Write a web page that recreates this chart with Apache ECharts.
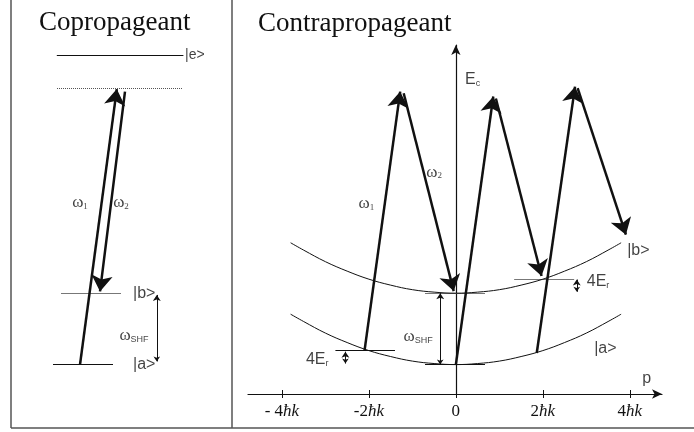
<!DOCTYPE html>
<html>
<head>
<meta charset="utf-8">
<script src="https://cdn.jsdelivr.net/npm/echarts@6/dist/echarts.min.js"></script>
<style>
  html, body { margin: 0; padding: 0; background: #fff; }
  #main { width: 694px; height: 432px; }
</style>
</head>
<body>
<div id="main"></div>
<script>
// values. right panel: p in units of hbar*k, energy in units of E_r
// left panel: arbitrary horizontal units, same energy scale
const ticksP = [-4, -2, 0, 2, 4];
const tickLabels = ['- 4', '-2', '0', '2', '4'];

const curveP = [-3.8, -3.5, -3, -2.5, -2, -1.5, -1, -0.5, 0, 0.5, 1, 1.5, 2, 2.5, 3, 3.5, 3.8];
const curveA = [14.4, 12.3, 9, 6.3, 4, 2.3, 1, 0.3, 0, 0.3, 1, 2.3, 4, 6.3, 9, 12.3, 14.4];
const curveB = [34.8, 32.7, 29.4, 26.7, 24.4, 22.7, 21.4, 20.7, 20.4, 20.7, 21.4, 22.7, 24.4, 26.7, 29.4, 32.7, 34.8];

// [p start, E start, p end, E end]
const beamsRight = [
  [-2.1, 4, -1.28, 78],
  [-1.2, 77.5, -0.05, 21],
  [0, 0, 0.86, 76.6],
  [0.92, 76, 1.97, 25.3],
  [1.86, 3.3, 2.74, 79.4],
  [2.8, 79, 3.91, 37.1]
];
// [p from, p to, E]
const marksA = [[-2.77, -1.4, 4], [-0.71, 0.67, 0]];
const marksB = [[-0.71, 0.67, 20.4], [1.34, 2.72, 24.4]];
// [p, E low, E high]
const gapsRight = [[-0.36, 0, 20.4], [-2.54, 0.3, 3.7], [2.78, 20.8, 24.3]];

const beamsLeft = [[3.0, 0, 4.84, 78.7], [5.25, 78, 4.0, 20.9]];
const levelE = [1.84, 8.17, 88.5];
const levelVirtual = [1.85, 8.15, 79];
const levelB = [2.05, 5.05, 20.4];
const levelA = [1.65, 4.65, 0];
const gapsLeft = [[6.84, 0.9, 19.9]];

const serif = '"Liberation Serif", "Times New Roman", serif';
const sans = '"Liberation Sans", Arial, sans-serif';
const ink = '#111';

const rich = {
  w: { fontFamily: serif, fontSize: 17, color: ink, verticalAlign: 'bottom', lineHeight: 17 },
  ws: { fontFamily: serif, fontSize: 9, color: ink, verticalAlign: 'bottom', lineHeight: 12 },
  s: { fontFamily: sans, fontSize: 16, color: ink, verticalAlign: 'bottom', lineHeight: 16 },
  ss: { fontFamily: sans, fontSize: 9, color: ink, verticalAlign: 'bottom', lineHeight: 12 },
  k: { fontFamily: sans, fontSize: 14, color: ink },
  n: { fontFamily: serif, fontSize: 17, color: ink },
  i: { fontFamily: serif, fontSize: 17, color: ink, fontStyle: 'italic' }
};

function txt(x, y, text, align) {
  return {
    value: [x, y],
    label: { show: true, position: 'inside', formatter: text, align: align || 'center', verticalAlign: 'middle', rich: rich }
  };
}
function seg(a) { return { coords: [[a[0], a[1]], [a[2], a[3]]] }; }
function hseg(a) { return { coords: [[a[0], a[2]], [a[1], a[2]]] }; }
function vseg(a) { return { coords: [[a[0], a[1]], [a[0], a[2]]] }; }

const beamStyle = { color: ink, width: 2.5, opacity: 1 };
const thin = { color: ink, width: 1, opacity: 1 };

const yRange = { min: -8.4, max: 91.3 };

const option = {
  animation: false,
  backgroundColor: '#fff',
  grid: [
    { left: 20, width: 200, top: 45, bottom: 38 },
    { left: 248, right: 32, top: 45, bottom: 38 }
  ],
  xAxis: [
    { gridIndex: 0, type: 'value', min: 0, max: 10, show: false },
    {
      gridIndex: 1, type: 'value', min: -4.78, max: 4.74, position: 'bottom',
      axisLine: { show: true, onZero: false, symbol: ['none', 'arrow'], symbolSize: [7, 10], lineStyle: { color: ink, width: 1.2 } },
      axisTick: { show: true, customValues: ticksP, length: 4, lineStyle: { color: ink, width: 1 } },
      axisLabel: {
        show: true, customValues: ticksP, margin: 9,
        formatter: function (v) {
          const i = ticksP.indexOf(v);
          return v === 0 ? '{n|' + tickLabels[i] + '}' : '{n|' + tickLabels[i] + '}{i|ħk}';
        },
        rich: rich
      },
      splitLine: { show: false }
    },
    {
      gridIndex: 1, type: 'value', min: -4.78, max: 4.74, position: 'bottom',
      axisLine: { show: false, onZero: false },
      axisTick: { show: true, inside: true, customValues: ticksP, length: 4, lineStyle: { color: ink, width: 1 } },
      axisLabel: { show: false },
      splitLine: { show: false }
    }
  ],
  yAxis: [
    { gridIndex: 0, type: 'value', min: yRange.min, max: yRange.max, show: false },
    {
      gridIndex: 1, type: 'value', min: yRange.min, max: yRange.max,
      axisLine: { show: true, onZero: true, symbol: ['none', 'arrow'], symbolSize: [7, 10], lineStyle: { color: ink, width: 1.2 } },
      axisTick: { show: false }, axisLabel: { show: false }, splitLine: { show: false }
    }
  ],
  series: [
    // ---------- left panel ----------
    {
      type: 'lines', coordinateSystem: 'cartesian2d', xAxisIndex: 0, yAxisIndex: 0,
      lineStyle: thin, data: [hseg(levelE), hseg(levelA)]
    },
    {
      type: 'lines', coordinateSystem: 'cartesian2d', xAxisIndex: 0, yAxisIndex: 0,
      lineStyle: { color: '#777', width: 1.2, opacity: 1 }, data: [hseg(levelB)]
    },
    {
      type: 'lines', coordinateSystem: 'cartesian2d', xAxisIndex: 0, yAxisIndex: 0,
      lineStyle: { color: '#555', width: 1, type: 'dotted', opacity: 1 }, data: [hseg(levelVirtual)]
    },
    {
      type: 'lines', coordinateSystem: 'cartesian2d', xAxisIndex: 0, yAxisIndex: 0,
      symbol: ['none', 'arrow'], symbolSize: [11, 16],
      lineStyle: beamStyle, data: beamsLeft.map(seg)
    },
    {
      type: 'lines', coordinateSystem: 'cartesian2d', xAxisIndex: 0, yAxisIndex: 0,
      symbol: ['arrow', 'arrow'], symbolSize: [5, 6],
      lineStyle: thin, data: gapsLeft.map(vseg)
    },
    {
      type: 'scatter', xAxisIndex: 0, yAxisIndex: 0, symbolSize: 0, silent: true,
      data: [
        txt(8.25, 88.5, '{k||e>}', 'left'),
        txt(5.65, 20.4, '{s||b>}', 'left'),
        txt(5.65, 0, '{s||a>}', 'left'),
        txt(3.0, 46.2, '{w|ω}{ws|1}'),
        txt(5.05, 46.2, '{w|ω}{ws|2}'),
        txt(5.7, 8.2, '{w|ω}{ss|SHF}')
      ]
    },
    // ---------- right panel ----------
    {
      type: 'line', xAxisIndex: 1, yAxisIndex: 1, smooth: 0.4, showSymbol: false,
      lineStyle: { color: ink, width: 1 }, data: curveP.map((p, i) => [p, curveA[i]])
    },
    {
      type: 'line', xAxisIndex: 1, yAxisIndex: 1, smooth: 0.4, showSymbol: false,
      lineStyle: { color: ink, width: 1 }, data: curveP.map((p, i) => [p, curveB[i]])
    },
    {
      type: 'lines', coordinateSystem: 'cartesian2d', xAxisIndex: 1, yAxisIndex: 1,
      lineStyle: { color: ink, width: 1.2, opacity: 1 }, data: marksA.map(hseg)
    },
    {
      type: 'lines', coordinateSystem: 'cartesian2d', xAxisIndex: 1, yAxisIndex: 1,
      lineStyle: { color: '#777', width: 1.2, opacity: 1 }, data: marksB.map(hseg)
    },
    {
      type: 'lines', coordinateSystem: 'cartesian2d', xAxisIndex: 1, yAxisIndex: 1,
      symbol: ['none', 'arrow'], symbolSize: [11, 16],
      lineStyle: beamStyle, data: beamsRight.map(seg)
    },
    {
      type: 'lines', coordinateSystem: 'cartesian2d', xAxisIndex: 1, yAxisIndex: 1,
      symbol: ['arrow', 'arrow'], symbolSize: [5, 6],
      lineStyle: thin, data: gapsRight.map(vseg)
    },
    {
      type: 'scatter', xAxisIndex: 1, yAxisIndex: 1, symbolSize: 0, silent: true,
      data: [
        txt(0.21, 81.3, '{s|E}{ss|c}', 'left'),
        txt(-2.06, 45.9, '{w|ω}{ws|1}'),
        txt(-0.5, 55, '{w|ω}{ws|2}'),
        txt(3.94, 32.5, '{s||b>}', 'left'),
        txt(3.18, 4.5, '{s||a>}', 'left'),
        txt(3.01, 23.7, '{s|4E}{ss|r}', 'left'),
        txt(-2.93, 1.3, '{s|4E}{ss|r}', 'right'),
        txt(-0.87, 8, '{w|ω}{ss|SHF}'),
        txt(4.39, -4.1, '{s|p}')
      ]
    }
  ],
  graphic: [
    { type: 'line', shape: { x1: 11, y1: 0, x2: 11, y2: 428 }, style: { stroke: '#555', lineWidth: 1.5 } },
    { type: 'line', shape: { x1: 232, y1: 0, x2: 232, y2: 428 }, style: { stroke: '#555', lineWidth: 1.5 } },
    { type: 'line', shape: { x1: 11, y1: 428, x2: 694, y2: 428 }, style: { stroke: '#555', lineWidth: 1.5 } },
    { type: 'text', x: 39, y: 23, style: { text: 'Copropageant', font: '27px ' + serif, fill: ink, verticalAlign: 'middle' } },
    { type: 'text', x: 258, y: 24, style: { text: 'Contrapropageant', font: '27px ' + serif, fill: ink, verticalAlign: 'middle' } }
  ]
};

const chart = echarts.init(document.getElementById('main'));
chart.setOption(option);
</script>
</body>
</html>
